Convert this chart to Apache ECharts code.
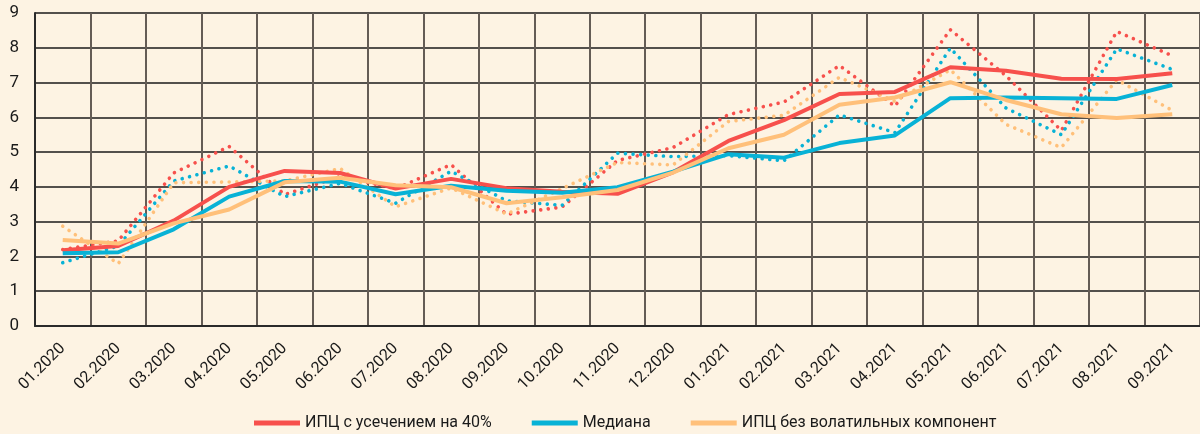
<!DOCTYPE html>
<html>
<head>
<meta charset="utf-8">
<script src="https://cdn.jsdelivr.net/npm/echarts@6/dist/echarts.min.js"></script>
<style>
  html, body { margin: 0; padding: 0; background: #fdf3e3; }
  #chart { width: 1200px; height: 434px; }
</style>
</head>
<body>
<div id="chart"></div>
<script>
// месяцы
const months = ['01.2020', '02.2020', '03.2020', '04.2020', '05.2020', '06.2020', '07.2020',
  '08.2020', '09.2020', '10.2020', '11.2020', '12.2020', '01.2021', '02.2021', '03.2021',
  '04.2021', '05.2021', '06.2021', '07.2021', '08.2021', '09.2021']

// сплошные линии
const trimmed = [2.18, 2.30, 3.03, 4.00, 4.46, 4.40, 3.95, 4.23, 3.96, 3.86, 3.80, 4.42, 5.32, 5.92, 6.67, 6.73, 7.44, 7.34, 7.11, 7.10, 7.27]
const median = [2.09, 2.12, 2.78, 3.72, 4.17, 4.15, 3.79, 4.03, 3.89, 3.83, 3.99, 4.44, 4.94, 4.84, 5.26, 5.48, 6.55, 6.57, 6.55, 6.53, 6.93]
const exVolatile = [2.47, 2.37, 2.95, 3.35, 4.13, 4.26, 4.05, 3.99, 3.53, 3.70, 3.91, 4.41, 5.11, 5.50, 6.36, 6.57, 7.01, 6.50, 6.09, 5.98, 6.09]

// пунктирные линии
const trimmedDot = [2.20, 2.45, 4.40, 5.16, 3.78, 4.30, 3.95, 4.64, 3.21, 3.42, 4.76, 5.13, 6.08, 6.44, 7.49, 6.32, 8.52, 7.20, 5.62, 8.47, 7.77]
const medianDot = [1.82, 2.30, 4.17, 4.60, 3.72, 4.10, 3.53, 4.45, 3.60, 3.47, 4.97, 4.87, 4.90, 4.75, 6.07, 5.56, 7.99, 6.27, 5.50, 7.97, 7.38]
const exVolatileDot = [2.87, 1.79, 4.12, 4.14, 4.17, 4.53, 3.43, 3.97, 3.22, 3.95, 4.70, 4.63, 5.88, 6.06, 7.15, 6.46, 7.37, 5.80, 5.13, 7.08, 6.20]

const names = ['ИПЦ с усечением на 40%', 'Медиана', 'ИПЦ без волатильных компонент']
const colors = ['#f7504c', '#08b2d6', '#ffc07a']
const font = '"Roboto", sans-serif'

const dotSeries = (name, data, color) => ({
  name: name + ' (пунктир)',
  type: 'line',
  data: data,
  symbol: 'none',
  lineStyle: { color: color, width: 3.6, type: [0.01, 7.6], cap: 'round' },
  itemStyle: { color: color },
  z: 2
})
const solidSeries = (name, data, color) => ({
  name: name,
  type: 'line',
  data: data,
  symbol: 'none',
  lineStyle: { color: color, width: 4 },
  itemStyle: { color: color },
  z: 3
})

const chart = echarts.init(document.getElementById('chart'))
chart.setOption({
  backgroundColor: '#fdf3e3',
  animation: false,
  textStyle: { fontFamily: font },
  grid: { left: 35, right: 0, top: 13, bottom: 108 },
  legend: {
    data: names,
    left: 249,
    top: 410,
    itemWidth: 46,
    itemHeight: 5,
    itemGap: 40,
    icon: 'rect',
    textStyle: { fontSize: 16, color: '#1a1a1a', fontFamily: font }
  },
  xAxis: {
    type: 'category',
    data: months,
    boundaryGap: true,
    axisTick: { show: false },
    axisLine: { lineStyle: { color: '#2a2a2a', width: 2 } },
    splitLine: { show: true, interval: 0, lineStyle: { color: '#645c55', width: 2 } },
    axisLabel: { interval: 0, rotate: 45, fontSize: 16, color: '#1a1a1a', margin: 20, fontFamily: font }
  },
  yAxis: {
    type: 'value',
    min: 0,
    max: 9,
    interval: 1,
    axisLine: { show: true, lineStyle: { color: '#2a2a2a', width: 2 } },
    axisTick: { show: false },
    splitLine: { lineStyle: { color: '#1a1a1a', width: 1.5 } },
    axisLabel: { fontSize: 17, color: '#1a1a1a', margin: 16, fontFamily: font }
  },
  series: [
    dotSeries(names[0], trimmedDot, colors[0]),
    dotSeries(names[1], medianDot, colors[1]),
    dotSeries(names[2], exVolatileDot, colors[2]),
    solidSeries(names[0], trimmed, colors[0]),
    solidSeries(names[1], median, colors[1]),
    solidSeries(names[2], exVolatile, colors[2])
  ]
})
</script>
</body>
</html>
